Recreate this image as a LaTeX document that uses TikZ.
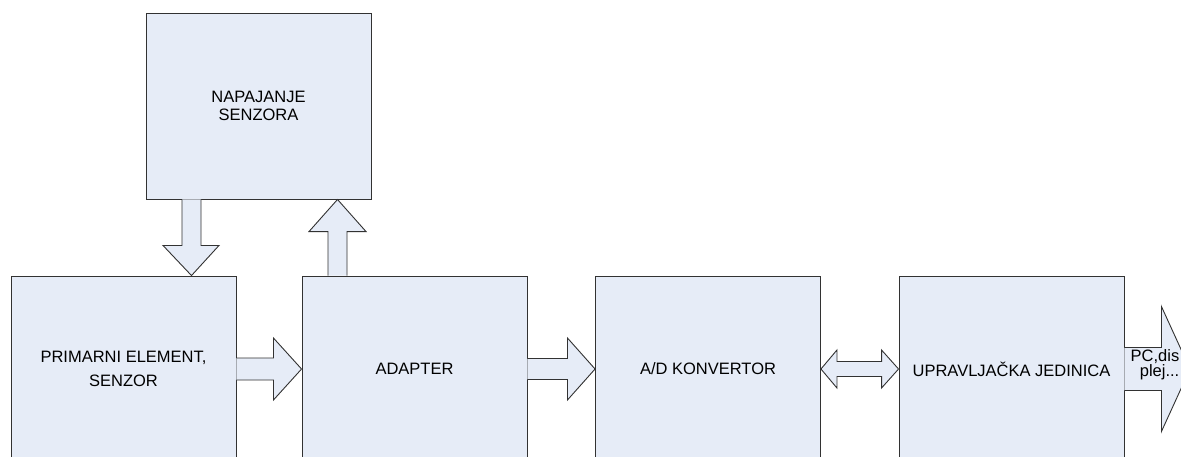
\documentclass[tikz,border=0pt]{standalone}
\usepackage{fontspec}
\setmainfont{Liberation Sans}
\usetikzlibrary{calc}
\definecolor{boxfill}{RGB}{230,236,247}
\definecolor{boxline}{RGB}{50,50,50}
\begin{document}
\begin{tikzpicture}[x=1pt,y=-1pt,
  block/.style={draw=boxline,fill=boxfill,line width=0.9pt,minimum width=225pt,minimum height=186pt,inner sep=0pt,align=center,font=\fontsize{16.5}{18.3}\selectfont},
  blockarrow/.style={draw=boxline,fill=boxfill,line width=0.9pt,line join=miter},
  arrowtext/.style={inner sep=0pt,align=right,font=\fontsize{16.5}{12.5}\selectfont}]
\useasboundingbox (0,0) rectangle (1181,456);
\fill[white] (0,0) rectangle (1181,456);
% blocks
\node[block] (nap) at (258.5,106) {NAPAJANJE\\SENZORA};
\node[block,font=\fontsize{16.5}{23.3}\selectfont] (prim) at (123.5,369) {PRIMARNI ELEMENT,\\SENZOR};
\node[block] (adapt) at (414.5,369) {ADAPTER};
\node[block] (ad) at (708,369) {A/D KONVERTOR};
\node[block] (upr) at (1011.5,369) {UPRAVLJAČKA JEDINICA};
% primarni -> adapter
\draw[blockarrow] ($(prim.east)+(0,-11)$) -- ($(prim.east)+(37,-11)$) -- ($(prim.east)+(37,-31)$)
  -- (adapt.west) -- ($(prim.east)+(37,31)$) -- ($(prim.east)+(37,11)$) -- ($(prim.east)+(0,11)$);
% adapter -> A/D
\draw[blockarrow] ($(adapt.east)+(0,-10.5)$) -- ($(adapt.east)+(40,-10.5)$) -- ($(adapt.east)+(40,-31)$)
  -- (ad.west) -- ($(adapt.east)+(40,31)$) -- ($(adapt.east)+(40,10.5)$) -- ($(adapt.east)+(0,10.5)$);
% A/D <-> upravljacka
\draw[blockarrow] (ad.east) -- ($(ad.east)+(16,-19)$) -- ($(ad.east)+(16,-7.5)$)
  -- ($(upr.west)+(-17,-7.5)$) -- ($(upr.west)+(-17,-19)$) -- (upr.west)
  -- ($(upr.west)+(-17,19)$) -- ($(upr.west)+(-17,7.5)$) -- ($(ad.east)+(16,7.5)$)
  -- ($(ad.east)+(16,19)$) -- cycle;
% output arrow
\coordinate (outtip) at (1190,369);
\draw[blockarrow] ($(upr.east)+(0,-21.5)$) -- ($(upr.east)+(37,-21.5)$) -- ($(upr.east)+(37,-62.5)$)
  -- (outtip) -- ($(upr.east)+(37,62.5)$) -- ($(upr.east)+(37,21.5)$) -- ($(upr.east)+(0,21.5)$);
\node[arrowtext,anchor=east] (pc) at (1179.5,365) {PC,dis\\plej...};
% napajanje -> primarni (down)
\draw[blockarrow] ($(nap.south)+(-76.5,0)$) -- ($(nap.south)+(-76.5,46)$) -- ($(nap.south)+(-95.5,46)$)
  -- ($(prim.north)+(68,0)$) -- ($(nap.south)+(-39.5,46)$) -- ($(nap.south)+(-57.5,46)$) -- ($(nap.south)+(-57.5,0)$);
% adapter -> napajanje (up)
\draw[blockarrow] ($(adapt.north)+(-86.5,0)$) -- ($(adapt.north)+(-86.5,-44)$) -- ($(adapt.north)+(-105.5,-44)$)
  -- ($(nap.south)+(79,0)$) -- ($(adapt.north)+(-48.5,-44)$) -- ($(adapt.north)+(-67.5,-44)$) -- ($(adapt.north)+(-67.5,0)$);
\end{tikzpicture}
\end{document}
